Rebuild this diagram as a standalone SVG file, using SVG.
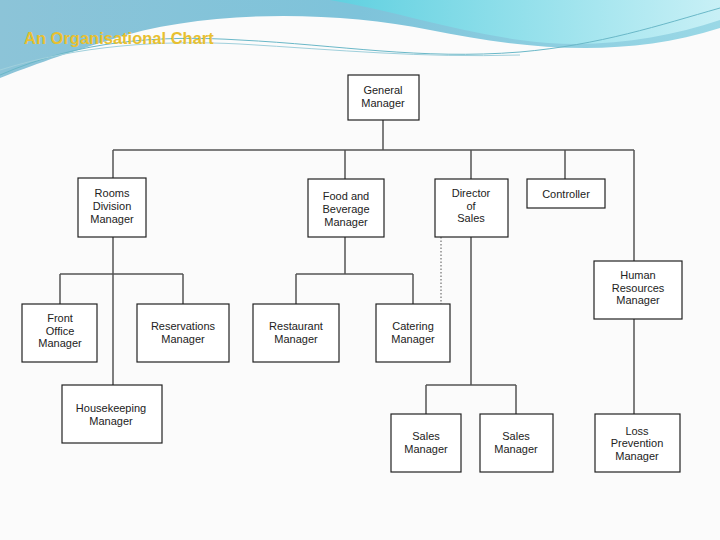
<svg xmlns="http://www.w3.org/2000/svg" width="720" height="540" viewBox="0 0 720 540">
<defs>
<linearGradient id="g1" x1="0" y1="0" x2="1" y2="0"><stop offset="0" stop-color="#8cc4d8"/><stop offset="0.5" stop-color="#7ec3da"/><stop offset="1" stop-color="#9ad8e6"/></linearGradient>
<linearGradient id="g2" x1="0" y1="0" x2="1" y2="0"><stop offset="0" stop-color="#5fd0e0"/><stop offset="1" stop-color="#c8f0f6"/></linearGradient>
</defs>
<style>
.n rect{fill:#fff;stroke:#222;stroke-width:1.2}
.n text{font-family:"Liberation Sans",Arial,sans-serif;font-size:11px;fill:#222;text-anchor:middle}
#connectors line{stroke:#555;stroke-width:1.5}
</style>
<rect width="720" height="540" fill="#fbfbfb"/>
<path d="M0 0 H720 V28 C620 60 520 48 430 30 C330 10 200 10 110 40 C60 55 20 70 0 78 Z" fill="url(#g1)"/>
<path d="M330 0 H720 V20 C660 40 590 50 520 40 C450 30 390 10 330 0 Z" fill="url(#g2)"/>
<path d="M0 75 C80 40 160 35 240 40 C340 45 420 60 520 52 C600 45 660 25 720 8" fill="none" stroke="#6ab8c8" stroke-width="1"/>
<path d="M0 70 C80 45 160 40 240 44 C340 50 420 58 520 55" fill="none" stroke="#a0d0dc" stroke-width="1"/>
<text x="24" y="44" font-family="Liberation Sans,Arial,sans-serif" font-size="16.5" font-weight="bold" fill="#e8c030">An Organisational Chart</text>
<g id="connectors">
<line x1="383" y1="120" x2="383" y2="150"/>
<line x1="113" y1="150" x2="634" y2="150"/>
<line x1="113" y1="150" x2="113" y2="178"/>
<line x1="345" y1="150" x2="345" y2="179"/>
<line x1="471" y1="150" x2="471" y2="179"/>
<line x1="565" y1="150" x2="565" y2="179"/>
<line x1="634" y1="150" x2="634" y2="261"/>
<line x1="113" y1="237" x2="113" y2="385"/>
<line x1="60" y1="274" x2="183" y2="274"/>
<line x1="60" y1="274" x2="60" y2="304"/>
<line x1="183" y1="274" x2="183" y2="304"/>
<line x1="345" y1="237" x2="345" y2="274"/>
<line x1="296" y1="274" x2="413" y2="274"/>
<line x1="296" y1="274" x2="296" y2="304"/>
<line x1="413" y1="274" x2="413" y2="304"/>
<line x1="441" y1="237" x2="441" y2="304" stroke-dasharray="1.5,2" style="stroke-width:1"/>
<line x1="471" y1="237" x2="471" y2="385"/>
<line x1="426" y1="385" x2="516" y2="385"/>
<line x1="426" y1="385" x2="426" y2="414"/>
<line x1="516" y1="385" x2="516" y2="414"/>
<line x1="634" y1="319" x2="634" y2="414"/>
</g>
<g id="gm" class="n"><rect x="348" y="75" width="71" height="45"/><text x="383" y="94">General</text><text x="383" y="107">Manager</text></g>
<g id="rooms" class="n"><rect x="78" y="178" width="68" height="59"/><text x="112" y="197">Rooms</text><text x="112" y="210">Division</text><text x="112" y="223">Manager</text></g>
<g id="fb" class="n"><rect x="308" y="179" width="76" height="58"/><text x="346" y="200">Food and</text><text x="346" y="213">Beverage</text><text x="346" y="226">Manager</text></g>
<g id="dos" class="n"><rect x="435" y="179" width="73" height="58"/><text x="471" y="197">Director</text><text x="471" y="210">of</text><text x="471" y="222">Sales</text></g>
<g id="ctrl" class="n"><rect x="527" y="179" width="78" height="29"/><text x="566" y="198">Controller</text></g>
<g id="hr" class="n"><rect x="594" y="261" width="88" height="58"/><text x="638" y="279">Human</text><text x="638" y="292">Resources</text><text x="638" y="304">Manager</text></g>
<g id="fo" class="n"><rect x="22" y="304" width="75" height="58"/><text x="60" y="322">Front</text><text x="60" y="335">Office</text><text x="60" y="347">Manager</text></g>
<g id="res" class="n"><rect x="137" y="304" width="92" height="58"/><text x="183" y="330">Reservations</text><text x="183" y="343">Manager</text></g>
<g id="rest" class="n"><rect x="253" y="304" width="86" height="58"/><text x="296" y="330">Restaurant</text><text x="296" y="343">Manager</text></g>
<g id="cat" class="n"><rect x="376" y="304" width="74" height="58"/><text x="413" y="330">Catering</text><text x="413" y="343">Manager</text></g>
<g id="hk" class="n"><rect x="62" y="385" width="100" height="58"/><text x="111" y="412">Housekeeping</text><text x="111" y="425">Manager</text></g>
<g id="sm1" class="n"><rect x="391" y="414" width="70" height="58"/><text x="426" y="440">Sales</text><text x="426" y="453">Manager</text></g>
<g id="sm2" class="n"><rect x="480" y="414" width="73" height="58"/><text x="516" y="440">Sales</text><text x="516" y="453">Manager</text></g>
<g id="lp" class="n"><rect x="595" y="414" width="85" height="58"/><text x="637" y="435">Loss</text><text x="637" y="447">Prevention</text><text x="637" y="460">Manager</text></g>
</svg>
